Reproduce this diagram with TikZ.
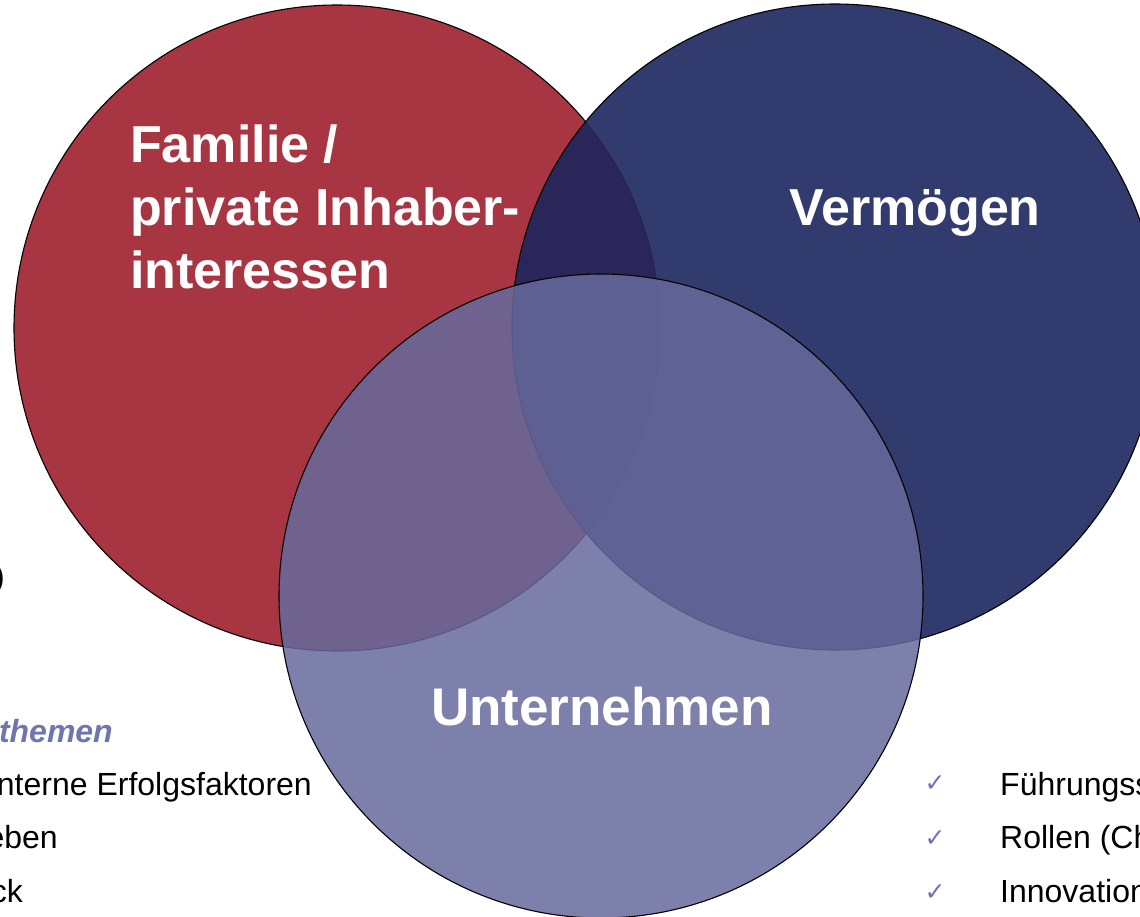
\documentclass[tikz,border=0pt]{standalone}
\usepackage{fontspec}
\setmainfont{Liberation Sans}
\newfontfamily\symfont{DejaVu Sans}
\usetikzlibrary{positioning}
\definecolor{famred}{RGB}{168,53,66}
\definecolor{vermblue}{RGB}{50,59,109}
\definecolor{lensblue}{RGB}{43,38,89}
\definecolor{lensedge}{RGB}{36,36,78}
\definecolor{untlav}{RGB}{103,106,157}
\definecolor{textlav}{RGB}{112,117,174}
\tikzset{
  every venn title/.style={
    text=white, inner sep=0pt, align=left,
    font=\bfseries\fontsize{52}{63}\selectfont,
  },
}

\begin{document}
\begin{tikzpicture}[x=1pt,y=-1pt,ring/.style={draw=black,line width=1.1pt},title/.style={every venn title},item/.style={font=\fontsize{32}{38}\selectfont,inner sep=0pt},tick/.style={text=textlav,font=\symfont\fontsize{25}{28}\selectfont,inner sep=0pt}]

        \useasboundingbox (0,0) rectangle (1140,916);
        \clip (0,0) rectangle (1140,916);

        % Familie, Vermoegen and their overlap
        \fill[famred] (337,328) circle (323pt);
        \fill[vermblue] (835,327) circle (323pt);
        \begin{scope}
          \clip (337,328) circle (323pt);
          \fill[lensblue] (835,327) circle (323pt);
        \end{scope}
        \begin{scope}
          \clip (835,327) circle (323pt);
          \draw[lensedge,line width=0.8pt] (337,328) circle (323pt);
        \end{scope}
        \begin{scope}[even odd rule]
          \clip (0,0) rectangle (1140,916) (835,327) circle (323pt);
          \draw[ring] (337,328) circle (323pt);
        \end{scope}
        \draw[ring] (835,327) circle (323pt);

        % Unternehmen
        \fill[untlav,opacity=0.85] (601,596) circle (322pt);
        \draw[ring] (601,596) circle (322pt);

        \node[title,anchor=north west] (fam) at (130,125) {Familie /\\private Inhaber-\\interessen};
        \node[title,anchor=base] (verm) at (915,225) {Vermögen};
        \node[title,anchor=base,font=\bfseries\fontsize{53}{63}\selectfont] (untern) at (602,725) {Unternehmen};

        \node[item,anchor=base east] (paren) at (5,587) {)};
        \node[item,anchor=base east,text=textlav,font=\bfseries\itshape\fontsize{32}{38}\selectfont] (themen) at (113,742) {themen};
        \node[item,anchor=base east] (l1) at (312,795) {nterne Erfolgsfaktoren};
        \node[item,anchor=base east] (l2) at (58,848) {eben};
        \node[item,anchor=base east] (l3) at (23,902) {ck};

        \node[tick] (t1) at (935,784) {✓};
        \node[tick] (t2) at (935,839) {✓};
        \node[tick] (t3) at (935,893) {✓};

        \node[item,anchor=base west] (r1) at (1000,795) {Führungss};
        \node[item,anchor=base west] (r2) at (1000,848) {Rollen (Ch};
        \node[item,anchor=base west] (r3) at (1000,902) {Innovation};

\end{tikzpicture}
\end{document}
